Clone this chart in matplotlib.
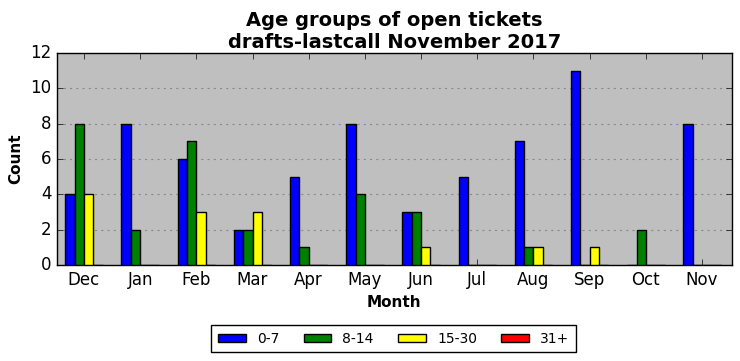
import matplotlib
matplotlib.use("Agg")
import matplotlib.pyplot as plt
import numpy as np

months = ["Dec", "Jan", "Feb", "Mar", "Apr", "May", "Jun", "Jul", "Aug", "Sep", "Oct", "Nov"]
age_groups = ["0-7", "8-14", "15-30", "31+"]
counts_0_7 = [4, 8, 6, 2, 5, 8, 3, 5, 7, 11, 0, 8]
counts_8_14 = [8, 2, 7, 2, 1, 4, 3, 0, 1, 0, 2, 0]
counts_15_30 = [4, 0, 3, 3, 0, 0, 1, 0, 1, 1, 0, 0]
counts_31_plus = [0, 0, 0, 0, 0, 0, 0, 0, 0, 0, 0, 0]
colors = ["blue", "green", "yellow", "red"]

plt.style.use("classic")
fig = plt.figure(figsize=(7.4, 3.61), dpi=100)
ax = fig.add_axes([0.077, 0.266, 0.912, 0.587])
ax.set_facecolor("#bfbfbf")

series = [counts_0_7, counts_8_14, counts_15_30, counts_31_plus]
x = np.arange(len(months))
w = 1 / 6
for i, (vals, name, col) in enumerate(zip(series, age_groups, colors)):
    ax.bar(x + (i - 1.5) * w, vals, width=w, color=col, edgecolor="black",
           linewidth=1, label=name, zorder=3)

ax.set_xlim(-0.48, 11.53)
ax.set_ylim(0, 12)
ax.set_xticks(x)
ax.set_xticklabels(months, fontsize=12)
ax.tick_params(axis="y", labelsize=12)
ax.yaxis.grid(True, linestyle=(0, (1.5, 3)), color="#888888", linewidth=0.8, zorder=0)
ax.set_axisbelow(True)
ax.set_xlabel("Month", fontsize=11, fontweight="bold")
ax.set_ylabel("Count", fontsize=11, fontweight="bold")
ax.set_title("Age groups of open tickets\ndrafts-lastcall November 2017",
             fontsize=14, fontweight="bold", linespacing=1.2, pad=4)

ax.legend(loc="center", bbox_to_anchor=(0.499, -0.347), ncol=4, fontsize=10,
          frameon=True, fancybox=False, handlelength=2.0, handleheight=0.5,
          columnspacing=1.75, borderpad=0.5)

fig.savefig("out.png", dpi=100)
